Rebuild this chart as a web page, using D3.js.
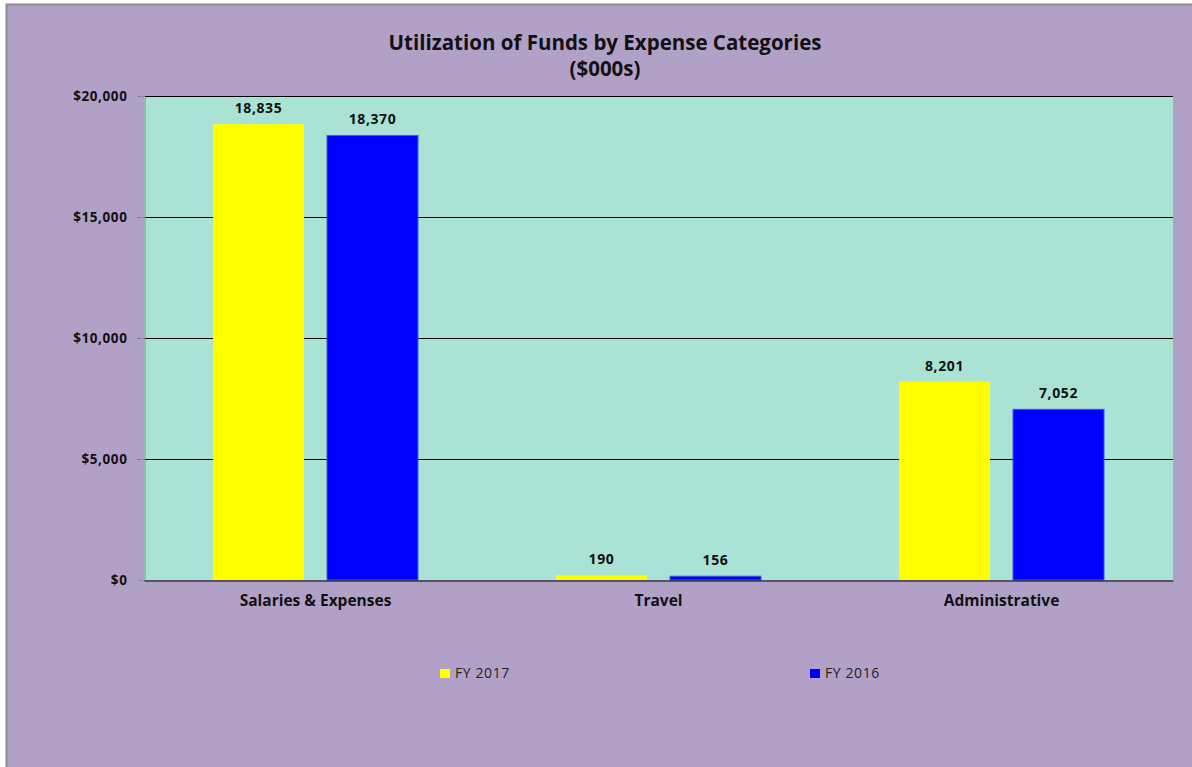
<!DOCTYPE html>
<html><head><meta charset="utf-8">
<script src="https://cdn.jsdelivr.net/npm/d3@7"></script>
<style>body{margin:0;background:#fff;overflow:hidden;}svg{display:block;font-family:"Open Sans",Lato,sans-serif;}</style>
</head><body>
<svg id="c" width="1192" height="767"></svg>
<script>
const categories = ["Salaries & Expenses", "Travel", "Administrative"];
const seriesNames = ["FY 2017", "FY 2016"];
const fy2017 = [18835, 190, 8201];
const fy2016 = [18370, 156, 7052];
const yTicks = [0, 5000, 10000, 15000, 20000];
const colors = ["#FFFF00", "#0000FF"];
const FONT = '"Open Sans", Lato, sans-serif';

const svg = d3.select("#c");
svg.append("rect").attr("x",6.5).attr("y",4.5).attr("width",1300).attr("height",900)
  .attr("fill","#B2A1C7").attr("stroke","#8c8c8c").attr("stroke-width",2);

const m = {left:144, right:1173, top:96, bottom:580};
const x0 = d3.scaleBand().domain(categories).range([m.left, m.right]).padding(0);
const x1 = d3.scaleBand().domain(seriesNames).range([0, x0.bandwidth()]).paddingInner(23/114).paddingOuter(0.605);
const y = d3.scaleLinear().domain([0,20000]).range([m.bottom, m.top]);

svg.append("rect").attr("x",m.left).attr("y",m.top).attr("width",m.right-m.left).attr("height",m.bottom-m.top).attr("fill","#AAE3D6");

// gridlines
svg.append("g").selectAll("line").data(yTicks.filter(d=>d>0)).join("line")
  .attr("x1",m.left-6).attr("x2",m.right).attr("y1",d=>Math.round(y(d))+0.5).attr("y2",d=>Math.round(y(d))+0.5)
  .attr("stroke","#000").attr("stroke-width",1);

// y axis
const yAxis = svg.append("g").attr("transform",`translate(${m.left+0.5},0)`)
  .call(d3.axisLeft(y).tickValues(yTicks).tickSize(6).tickPadding(11).tickFormat(d=>"$"+d3.format(",")(d)));
yAxis.attr("font-family",FONT);
yAxis.select(".domain").attr("stroke","#8c8c8c");
yAxis.selectAll(".tick line").attr("stroke","#8c8c8c");
yAxis.selectAll("text").attr("font-size",13.5).attr("font-weight","bold").attr("letter-spacing",0.6).attr("fill","#111");

const series = [fy2017, fy2016];
const g = svg.append("g");
categories.forEach((c,i)=>{
  seriesNames.forEach((s,j)=>{
    const v = series[j][i];
    const bx = x0(c)+x1(s);
    g.append("rect").attr("x",bx).attr("y",y(v)).attr("width",x1.bandwidth()).attr("height",y(0)-y(v))
      .attr("fill",colors[j]).attr("stroke", j===1?"#3a5fd0":"none").attr("stroke-width",j===1?1:0);
    g.append("text").attr("x",bx+x1.bandwidth()/2).attr("y",y(v)-11).attr("text-anchor","middle")
      .attr("font-size",14).attr("font-weight","bold").attr("letter-spacing",0.6).attr("fill","#111").text(d3.format(",")(v));
  });
});

// x axis
const xAxis = svg.append("g").attr("transform",`translate(0,${m.bottom+0.5})`)
  .call(d3.axisBottom(x0).tickSize(0).tickPadding(14));
xAxis.attr("font-family",FONT);
xAxis.select(".domain").attr("stroke","#000");
xAxis.selectAll("text").attr("font-size",15.5).attr("font-weight","bold").attr("fill","#111");

// title
const t = svg.append("text").attr("text-anchor","middle").attr("font-size",20.5).attr("font-weight","bold").attr("fill","#111");
t.append("tspan").attr("x",605).attr("y",50).text("Utilization of Funds by Expense Categories");
t.append("tspan").attr("x",605).attr("y",76).text("($000s)");

// legend
const legX = [440, 810];
seriesNames.forEach((s,j)=>{
  svg.append("rect").attr("x",legX[j]).attr("y",669).attr("width",10).attr("height",9).attr("fill",colors[j]);
  svg.append("text").attr("x",legX[j]+15).attr("y",678).attr("font-size",14).attr("letter-spacing",0.6).attr("fill","#222").text(s);
});
</script>
</body></html>
